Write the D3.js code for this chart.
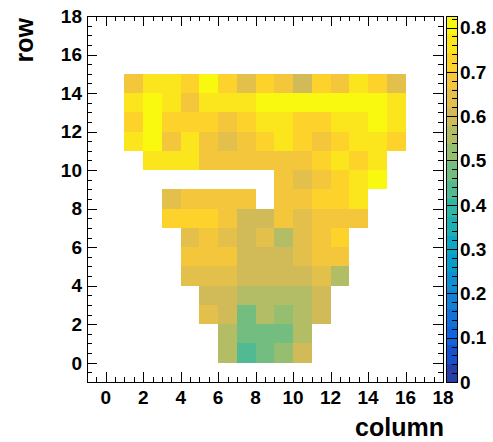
<!DOCTYPE html>
<html>
<head>
<meta charset="utf-8">
<script src="https://cdn.jsdelivr.net/npm/d3@7"></script>
<style>
  body { margin: 0; background: #fff; }
  svg { display: block; }
  text { font-family: "Liberation Sans", Arial, Helvetica, sans-serif; font-weight: bold; fill: #000; }
</style>
</head>
<body>
<svg id="chart" width="493" height="442"></svg>
<script>

// bin contents, one array per row, starting at rowStart column
var rowIndex = [0, 1, 2, 3, 4, 5, 6, 7, 8, 9, 10, 11, 12, 13, 14];
var rowStart = [6, 6, 5, 5, 4, 4, 4, 3, 3, 9, 2, 1, 1, 1, 1];
var rowValues = [
    [0.56, 0.43, 0.48, 0.52, 0.60],
    [0.56, 0.48, 0.48, 0.48, 0.56],
    [0.64, 0.60, 0.48, 0.56, 0.52, 0.56, 0.60],
    [0.60, 0.60, 0.56, 0.56, 0.56, 0.56, 0.60],
    [0.64, 0.64, 0.64, 0.60, 0.60, 0.60, 0.60, 0.64, 0.56],
    [0.68, 0.68, 0.68, 0.60, 0.60, 0.60, 0.64, 0.68, 0.68],
    [0.64, 0.68, 0.64, 0.60, 0.64, 0.56, 0.64, 0.68, 0.72],
    [0.72, 0.72, 0.72, 0.68, 0.60, 0.60, 0.68, 0.64, 0.68, 0.68, 0.68],
    [0.64, 0.68, 0.68, 0.68, 0.68, null, 0.68, 0.68, 0.72, 0.72, 0.76],
    [0.68, 0.64, 0.68, 0.72, 0.76, 0.81],
    [0.76, 0.76, 0.76, 0.68, 0.68, 0.68, 0.68, 0.68, 0.68, 0.72, 0.76, 0.72, 0.76],
    [0.76, 0.81, 0.68, 0.76, 0.68, 0.64, 0.68, 0.72, 0.76, 0.72, 0.68, 0.72, 0.76, 0.76, 0.72],
    [0.72, 0.81, 0.72, 0.72, 0.72, 0.68, 0.72, 0.76, 0.76, 0.72, 0.72, 0.76, 0.76, 0.81, 0.76],
    [0.76, 0.81, 0.76, 0.68, 0.76, 0.76, 0.76, 0.81, 0.81, 0.81, 0.81, 0.81, 0.81, 0.81, 0.76],
    [0.68, 0.76, 0.76, 0.72, 0.81, 0.72, 0.64, 0.72, 0.68, 0.60, 0.72, 0.68, 0.76, 0.72, 0.64]
];

var axisRange = [-1, 18];
var xTickLabels = [0, 2, 4, 6, 8, 10, 12, 14, 16, 18];
var yTickLabels = [0, 2, 4, 6, 8, 10, 12, 14, 16, 18];
var zMax = 0.826;
var zTickLabels = [0, 0.1, 0.2, 0.3, 0.4, 0.5, 0.6, 0.7, 0.8];
var nContours = 20;

// kBird palette stops
var birdStops = [0.0000, 0.1250, 0.2500, 0.3750, 0.5000, 0.6250, 0.7500, 0.8750, 1.0000];
var birdRed   = [0.2082, 0.0592, 0.0780, 0.0232, 0.1802, 0.5301, 0.8186, 0.9956, 0.9764];
var birdGreen = [0.1664, 0.3599, 0.5041, 0.6419, 0.7178, 0.7492, 0.7328, 0.7862, 0.9832];
var birdBlue  = [0.5293, 0.8684, 0.8385, 0.7914, 0.6425, 0.4662, 0.3499, 0.1968, 0.0539];

// build 255 colour table like TColor::CreateGradientColorTable
var palette = [];
for (var g = 1; g < birdStops.length; g++) {
    var n = Math.floor(255 * birdStops[g]) - Math.floor(255 * birdStops[g - 1]);
    for (var c = 0; c < n; c++) {
        var r = birdRed[g - 1] + c * (birdRed[g] - birdRed[g - 1]) / n;
        var gg = birdGreen[g - 1] + c * (birdGreen[g] - birdGreen[g - 1]) / n;
        var b = birdBlue[g - 1] + c * (birdBlue[g] - birdBlue[g - 1]) / n;
        palette.push(d3.rgb(r * 255, gg * 255, b * 255).toString());
    }
}

function bandColor(k) {
    var idx = Math.floor((k + 0.99) * palette.length / nContours);
    if (idx > palette.length - 1) idx = palette.length - 1;
    return palette[idx];
}

function valueColor(v) {
    var k = Math.floor(0.01 + v * nContours / zMax);
    if (k > nContours - 1) k = nContours - 1;
    return bandColor(k);
}

var frame = { left: 87, right: 443, top: 16, bottom: 382 };

var svg = d3.select("#chart");

var x = d3.scaleLinear().domain(axisRange).range([frame.left, frame.right]);
var y = d3.scaleLinear().domain(axisRange).range([frame.bottom, frame.top]);

// cells
var cells = [];
rowIndex.forEach(function (row, ri) {
    rowValues[ri].forEach(function (v, i) {
        if (v != null) cells.push({ col: rowStart[ri] + i, row: row, v: v });
    });
});

svg.append("g")
    .selectAll("rect")
    .data(cells)
    .enter().append("rect")
    .attr("x", function (d) { return x(d.col); })
    .attr("y", function (d) { return y(d.row + 1); })
    .attr("width", function (d) { return x(d.col + 1) - x(d.col); })
    .attr("height", function (d) { return y(d.row) - y(d.row + 1); })
    .attr("fill", function (d) { return valueColor(d.v); })
    .attr("shape-rendering", "crispEdges");

// frame
svg.append("rect")
    .attr("x", frame.left + 0.5)
    .attr("y", frame.top + 0.5)
    .attr("width", frame.right - frame.left)
    .attr("height", frame.bottom - frame.top)
    .attr("fill", "none")
    .attr("stroke", "#000")
    .attr("stroke-width", 1);

// ticks on all four sides, pointing inward
var ticks = d3.range(axisRange[0], axisRange[1] + 0.01, 0.5);
var tg = svg.append("g").attr("stroke", "#000").attr("stroke-width", 1).attr("shape-rendering", "crispEdges");
ticks.forEach(function (t) {
    var len = (Math.abs(t % 2) < 1e-6) ? 10 : 5;
    var xp = Math.round(x(t)) + 0.5;
    var yp = Math.round(y(t)) + 0.5;
    tg.append("line").attr("x1", xp).attr("x2", xp).attr("y1", frame.bottom).attr("y2", frame.bottom - len);
    tg.append("line").attr("x1", xp).attr("x2", xp).attr("y1", frame.top).attr("y2", frame.top + len);
    tg.append("line").attr("y1", yp).attr("y2", yp).attr("x1", frame.left).attr("x2", frame.left + len);
    tg.append("line").attr("y1", yp).attr("y2", yp).attr("x1", frame.right).attr("x2", frame.right - len);
});

// tick labels
svg.append("g").selectAll("text")
    .data(xTickLabels)
    .enter().append("text")
    .attr("x", function (d) { return x(d); })
    .attr("y", 404)
    .attr("text-anchor", "middle")
    .style("font-size", "19px")
    .text(function (d) { return d; });

svg.append("g").selectAll("text")
    .data(yTickLabels)
    .enter().append("text")
    .attr("x", frame.left - 5)
    .attr("y", function (d) { return y(d) + 6.8; })
    .attr("text-anchor", "end")
    .style("font-size", "19px")
    .text(function (d) { return d; });

// axis titles
svg.append("text")
    .attr("x", frame.right + 1)
    .attr("y", 436)
    .attr("text-anchor", "end")
    .style("font-size", "25px")
    .text("column");

svg.append("text")
    .attr("transform", "translate(33," + (frame.top + 2) + ") rotate(-90)")
    .attr("text-anchor", "end")
    .style("font-size", "25px")
    .text("row");

// palette
var pal = { left: 446, right: 457 };
var z = d3.scaleLinear().domain([0, zMax]).range([frame.bottom, frame.top]);
var dz = zMax / nContours;

svg.append("g").selectAll("rect")
    .data(d3.range(nContours))
    .enter().append("rect")
    .attr("x", pal.left)
    .attr("y", function (k) { return z((k + 1) * dz); })
    .attr("width", pal.right - pal.left)
    .attr("height", function (k) { return z(k * dz) - z((k + 1) * dz); })
    .attr("fill", function (k) { return bandColor(k); })
    .attr("shape-rendering", "crispEdges");

svg.append("rect")
    .attr("x", pal.left + 0.5)
    .attr("y", frame.top + 0.5)
    .attr("width", pal.right - pal.left)
    .attr("height", frame.bottom - frame.top)
    .attr("fill", "none")
    .attr("stroke", "#000")
    .attr("stroke-width", 1);

var pg = svg.append("g").attr("stroke", "#000").attr("stroke-width", 1).attr("shape-rendering", "crispEdges");
d3.range(0, zMax, 0.02).forEach(function (t, i) {
    var len = (i % 5 == 0) ? 11 : 5;
    var yp = Math.round(z(t)) + 0.5;
    pg.append("line").attr("x1", pal.right).attr("x2", pal.right - len).attr("y1", yp).attr("y2", yp);
});

svg.append("g").selectAll("text")
    .data(zTickLabels)
    .enter().append("text")
    .attr("x", pal.right + 3)
    .attr("y", function (d) { return z(d) + 6.8; })
    .attr("text-anchor", "start")
    .style("font-size", "19px")
    .text(function (d) { return d; });

</script>
</body>
</html>
